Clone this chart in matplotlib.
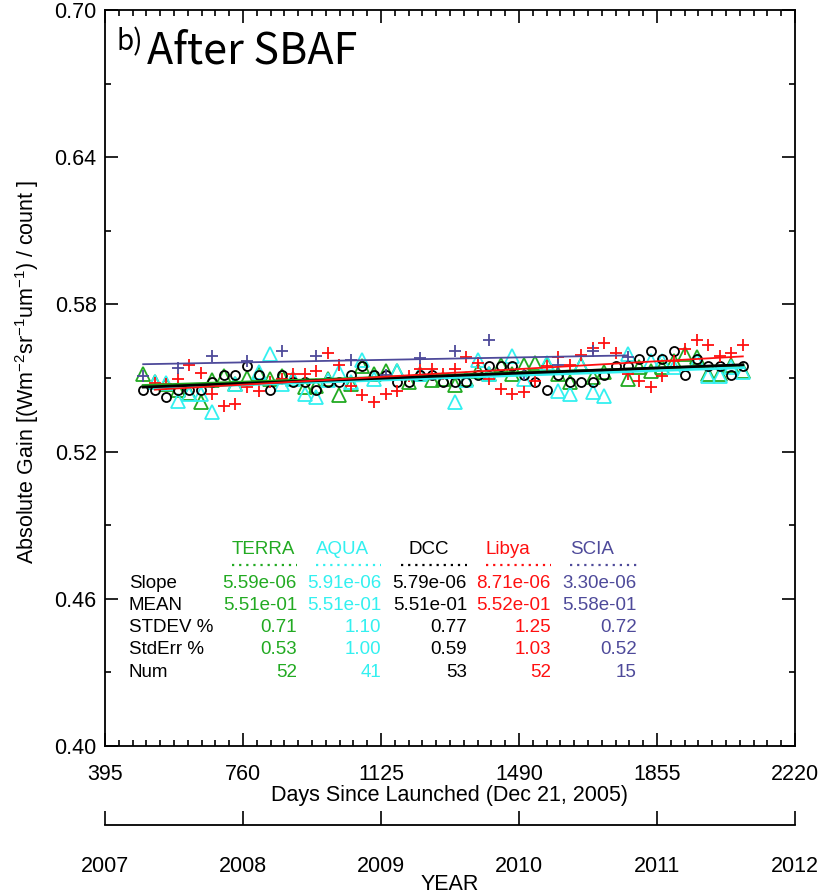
import numpy as np
import matplotlib
matplotlib.use("Agg")
import matplotlib.pyplot as plt
from matplotlib.ticker import AutoMinorLocator

plt.rcParams['font.family'] = ['Liberation Sans', 'DejaVu Sans']
plt.rcParams['mathtext.fontset'] = 'custom'
plt.rcParams['mathtext.rm'] = 'Liberation Sans'
plt.rcParams['mathtext.default'] = 'regular'

# ---- data (days since launch, absolute gain) ----
dcc_days = [496, 527, 557, 588, 618, 649, 679, 710, 740, 771, 801, 832, 862, 893,
            923, 954, 984, 1015, 1045, 1076, 1106, 1137, 1167, 1198, 1228, 1259,
            1289, 1320, 1350, 1381, 1411, 1442, 1472, 1503, 1533, 1564, 1594, 1625,
            1655, 1686, 1716, 1747, 1777, 1808, 1838, 1869, 1899, 1930, 1960, 1991,
            2021, 2052, 2082]
dcc_gain = [.5453, .5453, .5422, .5453, .5453, .5453, .5483, .5514, .5514, .5547,
            .5514, .5453, .5514, .5483, .5483, .5453, .5483, .5483, .5514, .5547,
            .5514, .5514, .5483, .5483, .5514, .5514, .5483, .5483, .5483, .5514,
            .5547, .5547, .5547, .5514, .5483, .5453, .5514, .5483, .5483, .5483,
            .5514, .5547, .5547, .5578, .5612, .5578, .5612, .5514, .5578, .5547,
            .5547, .5514, .5547]

terra_days = [496, 527, 557, 588, 618, 649, 679, 710, 740, 771, 801, 832, 862, 893,
              923, 954, 984, 1015, 1045, 1076, 1106, 1137, 1167, 1198, 1228, 1259,
              1289, 1320, 1350, 1381, 1411, 1442, 1472, 1503, 1533, 1564, 1594, 1625,
              1655, 1686, 1716, 1777, 1808, 1838, 1869, 1899, 1930, 1960, 1991,
              2021, 2052, 2082]
terra_gain = [.5517, .5483, .5476, .5453, .5440, .5402, .5492, .5510, .5476, .5501,
              .5517, .5497, .5510, .5497, .5463, .5469, .5497, .5429, .5476, .5547,
              .5517, .5530, .5530, .5483, .5517, .5492, .5497, .5472, .5497, .5530,
              .5517, .5551, .5517, .5551, .5560, .5558, .5517, .5483, .5551, .5506,
              .5526, .5497, .5544, .5530, .5544, .5571, .5596, .5585, .5517, .5517,
              .5551, .5530]

aqua_days = [527, 557, 588, 618, 649, 679, 740, 801, 832, 862, 893, 923, 954, 984,
             1015, 1045, 1076, 1106, 1167, 1228, 1320, 1350, 1381, 1411, 1472, 1503,
             1564, 1594, 1625, 1655, 1686, 1716, 1777, 1838, 1869, 1899, 1960, 1991,
             2021, 2052, 2082]
aqua_gain = [.5483, .5479, .5408, .5435, .5435, .5361, .5476, .5524, .5596, .5476,
             .5497, .5435, .5422, .5492, .5524, .5483, .5574, .5497, .5530, .5517,
             .5402, .5490, .5574, .5517, .5591, .5497, .5560, .5449, .5435, .5551,
             .5442, .5428, .5596, .5571, .5571, .5544, .5571, .5508, .5508, .5544,
             .5524]

libya_days = [527, 557, 588, 618, 649, 679, 710, 740, 771, 801, 832, 862, 893,
              923, 954, 984, 1015, 1045, 1076, 1106, 1137, 1167, 1198, 1228, 1259,
              1289, 1320, 1350, 1381, 1411, 1442, 1472, 1503, 1533, 1564, 1594, 1625,
              1655, 1686, 1716, 1747, 1777, 1808, 1838, 1869, 1899, 1930, 1960, 1991,
              2021, 2052, 2082]
libya_gain = [.5479, .5476, .5497, .5551, .5520, .5435, .5384, .5395, .5465, .5449,
              .5483, .5497, .5517, .5517, .5530, .5601, .5551, .5469, .5431, .5402,
              .5433, .5449, .5510, .5537, .5537, .5517, .5537, .5585, .5560, .5497,
              .5456, .5435, .5442, .5487, .5547, .5585, .5551, .5594, .5623, .5642,
              .5601, .5517, .5487, .5465, .5508, .5569, .5619, .5653, .5635, .5589,
              .5602, .5636]

scia_days = [496, 588, 679, 771, 862, 954, 1045, 1137, 1228, 1320, 1411, 1503, 1594,
             1686, 1777]
scia_gain = [.5510, .5540, .5591, .5571, .5612, .5589, .5574, .5514, .5581, .5612,
             .5653, .5517, .5551, .5612, .5585]

names = ['TERRA', 'AQUA', 'DCC', 'Libya', 'SCIA']
colors = ['#22AA22', '#33F0F0', 'black', '#FF1010', '#4E4A9A']
row_labels = ['Slope', 'MEAN', 'STDEV %', 'StdErr %', 'Num']
table_vals = [
    ['5.59e-06', '5.51e-01', '0.71', '0.53', '52'],
    ['5.91e-06', '5.51e-01', '1.10', '1.00', '41'],
    ['5.79e-06', '5.51e-01', '0.77', '0.59', '53'],
    ['8.71e-06', '5.52e-01', '1.25', '1.03', '52'],
    ['3.30e-06', '5.58e-01', '0.72', '0.52', '15'],
]
years = [2007, 2008, 2009, 2010, 2011, 2012]

W, H = 837, 896
fig = plt.figure(figsize=(W / 100, H / 100), dpi=100)
L, R, T, B = 105, 795, 10, 746
ax = fig.add_axes([L / W, 1 - B / H, (R - L) / W, (B - T) / H])

series = [
    (terra_days, terra_gain, '^', 9.5, 2.0),
    (aqua_days, aqua_gain, '^', 9.5, 2.0),
    (dcc_days, dcc_gain, 'o', 6.5, 2.0),
    (libya_days, libya_gain, '+', 9, 1.3),
    (scia_days, scia_gain, '+', 9, 1.3),
]
for (d, g, mk, ms, lw), c in zip(series, colors):
    ax.plot(d, g, linestyle='none', marker=mk, ms=ms, mfc='none', mec=c, mew=1.3)
# linear fits over each series' own span
for (d, g, mk, ms, lw), c in zip(series, colors):
    d = np.array(d, float)
    g = np.array(g, float)
    p = np.polyfit(d, g, 1)
    xx = np.array([d.min(), d.max()])
    ax.plot(xx, np.polyval(p, xx), color=c, lw=lw)

ax.set_xlim(395, 2220)
ax.set_ylim(0.40, 0.70)
ax.set_xticks([395, 760, 1125, 1490, 1855, 2220])
ax.set_yticks([0.40, 0.46, 0.52, 0.58, 0.64, 0.70])
ax.set_yticklabels(['0.40', '0.46', '0.52', '0.58', '0.64', '0.70'])
ax.xaxis.set_minor_locator(AutoMinorLocator(10))
ax.yaxis.set_minor_locator(AutoMinorLocator(2))
ax.tick_params(which='both', direction='in', top=True, right=True, width=1.2)
ax.tick_params(which='major', length=9.5, labelsize=15.5)
ax.tick_params(which='minor', length=4.5)
ax.tick_params(axis='x', which='major', pad=13)
ax.tick_params(axis='y', which='major', pad=6)
for s in ax.spines.values():
    s.set_linewidth(1.3)

fig.text(27 / W, 1 - 372 / H,
         'Absolute Gain [(Wm$^{-2}$sr$^{-1}$um$^{-1}$) / count ]',
         rotation=90, ha='center', va='center', fontsize=15.5)
fig.text((L + R) / 2 / W, 1 - 796 / H, 'Days Since Launched (Dec 21, 2005)',
         ha='center', va='center', fontsize=15.5)

# title
title_font = ['Noto Sans CJK SC', 'DejaVu Sans']
fig.text(117 / W, 1 - 50 / H, 'b)', fontsize=20, family=title_font, va='baseline')
fig.text(147 / W, 1 - 63 / H, 'After SBAF', fontsize=31, family=title_font,
         va='baseline')

# statistics table
def fx(px):
    return (px - L) / (R - L)

def fy(py):
    return 1 - (py - T) / (B - T)

row_y = [583, 605, 627, 649, 672]
col_left = [232, 316, 401, 486, 570]
col_right = [297, 381, 467, 551, 637]
head_x = [232, 316, 409, 486, 570]
for lab, yy in zip(row_labels, row_y):
    ax.text(fx(129), fy(yy), lab, transform=ax.transAxes, fontsize=13.5,
            ha='left', va='center')
for i, nm in enumerate(names):
    c = colors[i]
    ax.text(fx(head_x[i]), fy(549), nm, transform=ax.transAxes, fontsize=13.5,
            color=c, ha='left', va='center')
    ax.plot([fx(col_left[i]), fx(col_right[i])], [fy(565), fy(565)],
            transform=ax.transAxes, color=c, lw=1.6, linestyle=(0, (1, 2.2)))
    for v, yy in zip(table_vals[i], row_y):
        ax.text(fx(col_right[i]), fy(yy), v, transform=ax.transAxes,
                fontsize=13.5, color=c, ha='right', va='center')

# year axis
yax = fig.add_axes([L / W, 1 - 825 / H, (R - L) / W, 0.0001])
yax.set_xlim(2007, 2012)
yax.set_xticks(years)
yax.set_yticks([])
for k in ['left', 'right', 'top']:
    yax.spines[k].set_visible(False)
yax.spines['bottom'].set_linewidth(1.3)
yax.patch.set_visible(False)
yax.tick_params(axis='x', direction='in', length=10, width=1.2, pad=22,
                labelsize=15.5)
fig.text((L + R) / 2 / W, 1 - 884 / H, 'YEAR', ha='center', va='center',
         fontsize=15.5)

fig.savefig('out.png', dpi=100)
